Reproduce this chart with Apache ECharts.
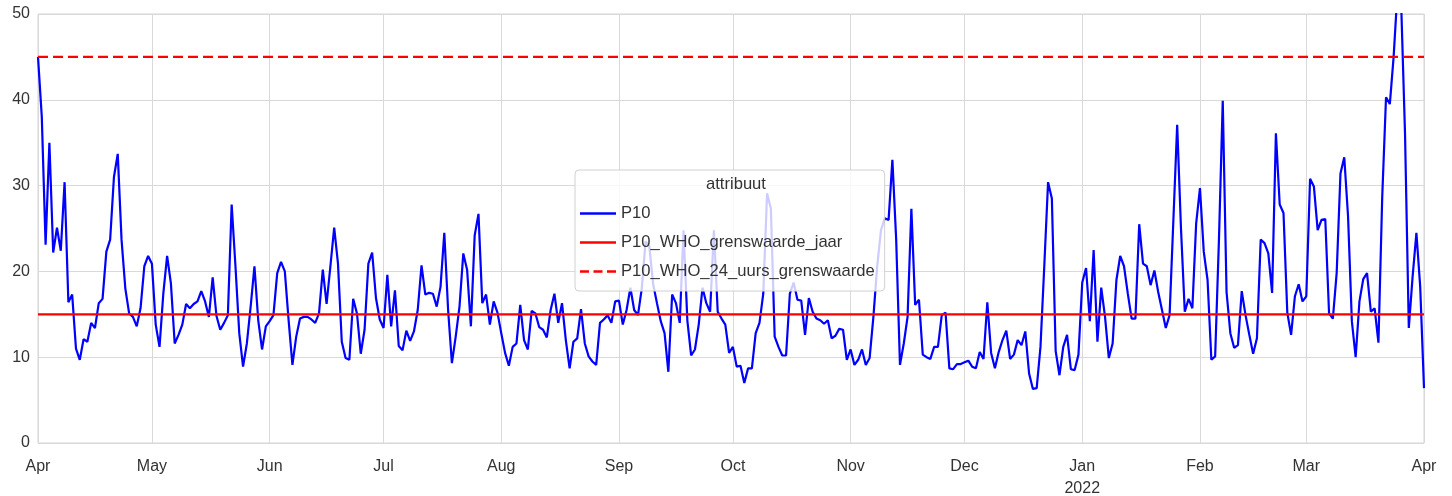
<!DOCTYPE html>
<html>
<head>
<meta charset="utf-8">
<script src="https://cdn.jsdelivr.net/npm/echarts@6/dist/echarts.min.js"></script>
<style>
html,body{margin:0;padding:0;background:#fff;}
#chart{width:1452px;height:496px;}
</style>
</head>
<body>
<div id="chart"></div>
<script>
// ---- data ----
const startDate = [2021, 3, 1]; // 1 April 2021 (month is 0-based)
const p10 = [
45,38,23.1,35.0,22.2,25.1,22.4,30.4,16.4,17.3,11.0,9.7,12.1,11.8,14.0,13.4,16.3,16.8,22.3,23.7,
31.0,33.7,23.7,18.0,15.1,14.7,13.6,15.7,20.6,21.8,20.9,13.8,11.2,17.4,21.8,18.6,11.6,12.6,13.8,16.2,
15.7,16.2,16.5,17.7,16.5,14.7,19.3,14.8,13.2,14.0,14.9,27.8,20.6,12.8,8.9,11.6,15.9,20.6,14.3,10.9,
13.6,14.2,14.9,19.8,21.1,20.0,14.3,9.1,12.4,14.5,14.7,14.7,14.4,14.0,15.1,20.2,16.2,20.6,25.1,20.9,
11.8,9.9,9.7,16.8,15.1,10.4,13.2,20.9,22.2,16.9,14.4,13.4,19.6,13.6,17.8,11.3,10.8,13.1,11.9,13.0,
15.5,20.7,17.3,17.5,17.4,15.9,18.2,24.5,15.5,9.3,12.4,15.9,22.1,20.2,13.6,24.2,26.7,16.3,17.3,13.8,
16.5,15.2,12.8,10.5,9.0,11.2,11.6,16.1,12.0,10.9,15.4,15.1,13.5,13.2,12.3,15.5,17.4,14.0,16.3,12.0,
8.7,11.8,12.2,15.6,11.6,10.1,9.5,9.1,14.0,14.4,14.9,14.0,16.5,16.6,13.8,15.5,18.1,15.5,14.9,18.0,
23.5,22.9,18.5,16.3,14.2,12.8,8.3,17.3,16.3,14.0,24.8,14.3,10.2,10.9,13.8,18.1,16.3,15.3,24.8,15.3,
14.5,13.8,10.5,11.2,8.9,9.0,7.0,8.7,8.7,12.8,14.0,17.4,29.1,27.3,12.4,11.2,10.2,10.2,17.4,18.7,
16.7,16.6,12.6,16.9,15.3,14.5,14.3,13.9,14.3,12.2,12.5,13.3,13.2,9.7,10.9,9.1,9.7,10.9,9.1,9.9,
14.7,20.6,24.8,26.2,26.0,33.0,23.7,9.1,11.6,14.7,27.3,16.1,16.7,10.3,10.0,9.8,11.2,11.2,14.9,15.2,
8.7,8.6,9.2,9.2,9.4,9.6,8.9,8.7,10.6,9.8,16.4,10.5,8.7,10.6,12.0,13.1,9.8,10.3,12.0,11.4,
13.0,8.1,6.3,6.4,11.2,20.6,30.4,28.5,10.7,7.9,11.2,12.6,8.6,8.5,10.3,18.7,20.4,14.2,22.5,11.8,
18.1,14.7,9.9,11.6,19.0,21.8,20.6,17.4,14.5,14.5,25.5,20.9,20.6,18.4,20.1,17.6,15.5,13.4,14.9,26.0,
37.1,25.0,15.3,16.8,15.7,25.6,29.7,22.3,19.0,9.7,10.1,23.7,39.9,17.6,12.8,11.1,11.4,17.7,14.9,12.6,
10.4,12.2,23.7,23.3,22.1,17.5,36.1,27.8,26.8,15.2,12.6,17.1,18.5,16.5,17.1,30.8,29.9,24.8,26.0,26.1,
15.1,14.5,19.8,31.4,33.3,26.4,14.2,10.0,16.5,19.1,19.8,15.3,15.7,11.7,28.7,40.3,39.5,45.0,52.5,51.0,
36.1,13.4,19.4,24.5,18.2,6.4
];
const whoYear = 15;   // P10_WHO_grenswaarde_jaar
const whoDay = 45;    // P10_WHO_24_uurs_grenswaarde
const seriesNames = ['P10', 'P10_WHO_grenswaarde_jaar', 'P10_WHO_24_uurs_grenswaarde'];
const monthLabels = ['Apr','May','Jun','Jul','Aug','Sep','Oct','Nov','Dec','Jan','Feb','Mar','Apr'];
const yearLabel = '2022';
const yMin = 0, yMax = 50, yStep = 10;
const legendTitle = 'attribuut';

// ---- build ----
const DAY = 86400000;
const t0 = Date.UTC(startDate[0], startDate[1], startDate[2]);
const monthDays = monthLabels.map((_, k) =>
  Math.round((Date.UTC(startDate[0], startDate[1] + k, 1) - t0) / DAY));
const lastDay = p10.length - 1;
const p10Data = p10.map((v, i) => [i, v]);
const yearData = p10.map((_, i) => [i, whoYear]);
const dayData = p10.map((_, i) => [i, whoDay]);

const solidIcon = 'path://M0,0L36,0L36,2.4L0,2.4Z';
const dashIcon = 'path://M0,0L9,0L9,2.4L0,2.4Z M13.5,0L22.5,0L22.5,2.4L13.5,2.4Z M27,0L36,0L36,2.4L27,2.4Z';

const font = 'Liberation Sans, Arial, Helvetica, sans-serif';
const chart = echarts.init(document.getElementById('chart'), null, {renderer: 'canvas'});
chart.setOption({
  animation: false,
  backgroundColor: '#ffffff',
  textStyle: {fontFamily: font},
  grid: {left: 38, right: 28, top: 14, bottom: 53, outerBoundsMode: 'none', containLabel: false,
         show: true, borderColor: '#d4d4d4', borderWidth: 1, backgroundColor: 'transparent'},
  xAxis: {
    type: 'value', min: 0, max: lastDay,
    axisLine: {show: false},
    axisTick: {show: false, customValues: monthDays},
    splitLine: {show: true, lineStyle: {color: '#d9d9d9', width: 1}},
    axisLabel: {
      customValues: monthDays,
      margin: 13,
      color: '#333', fontSize: 16, fontFamily: font, lineHeight: 22,
      formatter: function (v) {
        const k = monthDays.indexOf(Math.round(v));
        if (k < 0) return '';
        return monthLabels[k] === 'Jan' ? monthLabels[k] + '\n' + yearLabel : monthLabels[k];
      }
    }
  },
  yAxis: {
    type: 'value', min: yMin, max: yMax, interval: yStep,
    axisLine: {show: false}, axisTick: {show: false},
    splitLine: {show: true, lineStyle: {color: '#d9d9d9', width: 1}},
    axisLabel: {color: '#333', fontSize: 16, fontFamily: font, margin: 8}
  },
  legend: {
    orient: 'vertical', left: 575, top: 170,
    padding: [35, 10, 11, 5],
    itemWidth: 36, itemHeight: 16, itemGap: 12,
    backgroundColor: 'rgba(255,255,255,0.8)',
    borderColor: '#d0d0d0', borderWidth: 1, borderRadius: 4,
    textStyle: {color: '#333', fontSize: 16.6, fontFamily: font},
    data: [
      {name: seriesNames[0], icon: solidIcon, itemStyle: {color: '#0000ff'}},
      {name: seriesNames[1], icon: solidIcon, itemStyle: {color: '#ff0000'}},
      {name: seriesNames[2], icon: dashIcon, itemStyle: {color: '#ff0000'}}
    ]
  },
  graphic: [{
    type: 'text', z: 200, left: 706, top: 176,
    style: {text: legendTitle, fill: '#333', font: '16.6px ' + font}
  }],
  series: [
    {name: seriesNames[0], type: 'line', data: p10Data, showSymbol: false, symbol: 'none',
     lineStyle: {color: '#0000ff', width: 2.2}, itemStyle: {color: '#0000ff'}, z: 2},
    {name: seriesNames[1], type: 'line', data: yearData, showSymbol: false, symbol: 'none',
     lineStyle: {color: '#ff0000', width: 2.2}, itemStyle: {color: '#ff0000'}, z: 3},
    {name: seriesNames[2], type: 'line', data: dayData, showSymbol: false, symbol: 'none',
     lineStyle: {color: '#ff0000', width: 2.2, type: [10, 5]}, itemStyle: {color: '#ff0000'}, z: 3}
  ]
});
</script>
</body>
</html>
